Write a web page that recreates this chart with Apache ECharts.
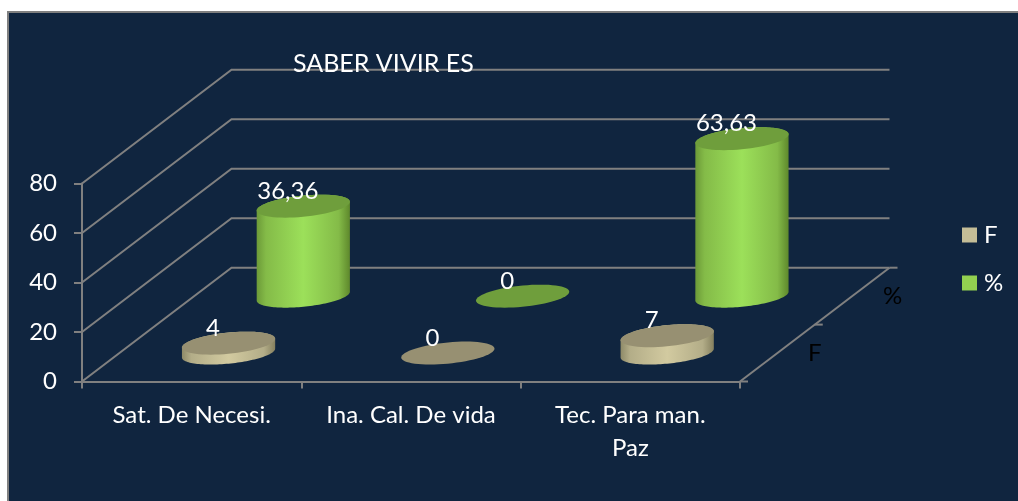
<!DOCTYPE html>
<html>
<head>
<meta charset="utf-8">
<style>html,body{margin:0;padding:0;background:#fff;overflow:hidden}#c{width:1018px;height:501px}</style>
<script src="https://cdn.jsdelivr.net/npm/echarts@6/dist/echarts.min.js"></script>
</head>
<body>
<div id="c"></div>
<script>
const titleText = 'SABER VIVIR ES';
const categories = ['Sat. De Necesi.', 'Ina. Cal. De vida', 'Tec. Para man.\nPaz'];
const seriesNames = ['F', '%'];
const valuesF = [4, 0, 7];
const valuesPct = [36.36, 0, 63.63];
const yTicks = [0, 20, 40, 60, 80];

const FONT = 'Lato';
const BG = '#10253f';
const LINE = '#808080';
const DEPTH_X = 149.5, DEPTH_Y = 113.8;
const R_X = 43, SKEW = 18, R_Y = 11.5;

const chart = echarts.init(document.getElementById('c'), null, {renderer: 'canvas'});

function depthPt(api, cat, val, frac) {
  const p = api.coord([cat, val]);
  return [p[0] + DEPTH_X * frac - 0.5, p[1] - DEPTH_Y * frac];
}
function ellipse(c, from, to) {
  const pts = [];
  const n = 64;
  for (let i = 0; i <= n; i++) {
    const t = from + (to - from) * i / n;
    pts.push([c[0] + R_X * Math.cos(t) + SKEW * Math.sin(t), c[1] - R_Y * Math.sin(t)]);
  }
  return pts;
}
function cylinder(frac, st) {
  return function (params, api) {
    const cat = api.value(0), val = api.value(1);
    const base = depthPt(api, cat, 0, frac);
    const top = depthPt(api, cat, val, frac);
    const children = [];
    const t0 = Math.atan2(SKEW, R_X);
    if (base[1] - top[1] > 0.5) {
      const lower = ellipse(base, t0, t0 - Math.PI).reverse();
      const upper = ellipse(top, t0, t0 + Math.PI);
      children.push({
        type: 'polygon',
        shape: {points: lower.concat(upper)},
        style: {fill: new echarts.graphic.LinearGradient(0, 0, 1, 0, [
          {offset: 0, color: st.edgeL}, {offset: 0.1, color: st.mid},
          {offset: 0.5, color: st.light},
          {offset: 0.88, color: st.mid}, {offset: 1, color: st.edgeR}
        ])}
      });
    }
    children.push({type: 'polygon', shape: {points: ellipse(top, 0, Math.PI * 2)}, style: {fill: st.top}});
    children.push({
      type: 'text', z2: 10,
      style: {
        text: String(val).replace('.', ','),
        x: top[0] - 15.5, y: top[1] - 15,
        align: 'center', verticalAlign: 'middle',
        fill: '#fff', font: '24px ' + FONT
      }
    });
    return {type: 'group', children};
  };
}
function wallLines(params, api) {
  const cs = params.coordSys;
  const a = [cs.x, api.coord([0, api.value(0)])[1]];
  const b = [a[0] + DEPTH_X, a[1] - DEPTH_Y];
  const c = [cs.x + cs.width + DEPTH_X, b[1]];
  return {type: 'polyline', shape: {points: [a, b, c]}, style: {stroke: LINE, lineWidth: 2, fill: 'none'}};
}
function depthAxis(params, api) {
  const i = api.value(0);
  const cs = params.coordSys;
  const x0 = cs.x + cs.width, y0 = cs.y + cs.height;
  const n = seriesNames.length;
  const children = [];
  if (i === 0) {
    children.push({type: 'line', shape: {x1: x0, y1: y0, x2: x0 + DEPTH_X, y2: y0 - DEPTH_Y}, style: {stroke: LINE, lineWidth: 2}});
    children.push({type: 'line', shape: {x1: x0, y1: y0, x2: x0 + 8, y2: y0}, style: {stroke: LINE, lineWidth: 2}});
  }
  const ex = x0 + DEPTH_X * (i + 1) / n, ey = y0 - DEPTH_Y * (i + 1) / n;
  children.push({type: 'line', shape: {x1: ex, y1: ey, x2: ex + 8, y2: ey}, style: {stroke: LINE, lineWidth: 2}});
  children.push({type: 'text', style: {
    text: seriesNames[i], x: ex + (i ? 3 : 0), y: ey + 29, align: 'center', verticalAlign: 'middle',
    fill: '#000', font: '24px ' + FONT
  }});
  return {type: 'group', children};
}

const green = {edgeL: '#6c9a38', edgeR: '#5e882c', mid: '#84bb48', light: '#9ce05a', top: '#6f9e3c'};
const tan = {edgeL: '#8e8a68', edgeR: '#85805f', mid: '#b3ad88', light: '#d2caa0', top: '#979072'};

function rows(vals) { return vals.map((v, i) => [i, v]); }

chart.setOption({
  animation: false,
  backgroundColor: '#ffffff',
  textStyle: {fontFamily: FONT},
  graphic: [{
    type: 'rect', z: -10, silent: true,
    shape: {x: 8, y: 12, width: 1040, height: 520},
    style: {fill: BG, stroke: '#808080', lineWidth: 2}
  }],
  title: {
    text: titleText, left: 293, top: 51, padding: 0,
    textStyle: {color: '#fff', fontSize: 25, fontWeight: 'normal', fontFamily: FONT}
  },
  legend: {
    orient: 'vertical', left: 962, top: 223, itemWidth: 15, itemHeight: 15, itemGap: 24,
    icon: 'rect', padding: 0, data: seriesNames,
    textStyle: {color: '#fff', fontSize: 24, fontFamily: FONT, padding: [0, 0, 0, 2]}
  },
  grid: {left: 82, top: 183.5, width: 658, height: 198, containLabel: false},
  xAxis: {
    type: 'category', data: categories, boundaryGap: true,
    axisLine: {lineStyle: {color: LINE, width: 2}},
    axisTick: {show: true, alignWithLabel: false, length: 7, lineStyle: {color: LINE, width: 2}},
    axisLabel: {color: '#fff', fontSize: 24, fontFamily: FONT, margin: 17, lineHeight: 33, interval: 0}
  },
  yAxis: {
    type: 'value', min: 0, max: 80, interval: 20,
    axisLine: {show: true, lineStyle: {color: LINE, width: 2}},
    axisTick: {show: true, length: 8, lineStyle: {color: LINE, width: 2}},
    axisLabel: {color: '#fff', fontSize: 24, fontFamily: FONT, margin: 25, padding: [2, 0, 0, 0]},
    splitLine: {show: false}
  },
  series: [
    {type: 'custom', name: 'walls', silent: true, z: 1, renderItem: wallLines, data: yTicks.map(v => [v]), encode: {y: 0}},
    {type: 'custom', name: 'depth', silent: true, z: 1, renderItem: depthAxis, data: seriesNames.map((n, i) => [i]), encode: {}},
    {type: 'custom', name: seriesNames[1], z: 2, renderItem: cylinder(0.75, green), data: rows(valuesPct), encode: {x: 0, y: 1}, itemStyle: {color: '#92d050'}},
    {type: 'custom', name: seriesNames[0], z: 3, renderItem: cylinder(0.25, tan), data: rows(valuesF), encode: {x: 0, y: 1}, itemStyle: {color: '#c4bd97'}}
  ]
});
</script>
</body>
</html>
